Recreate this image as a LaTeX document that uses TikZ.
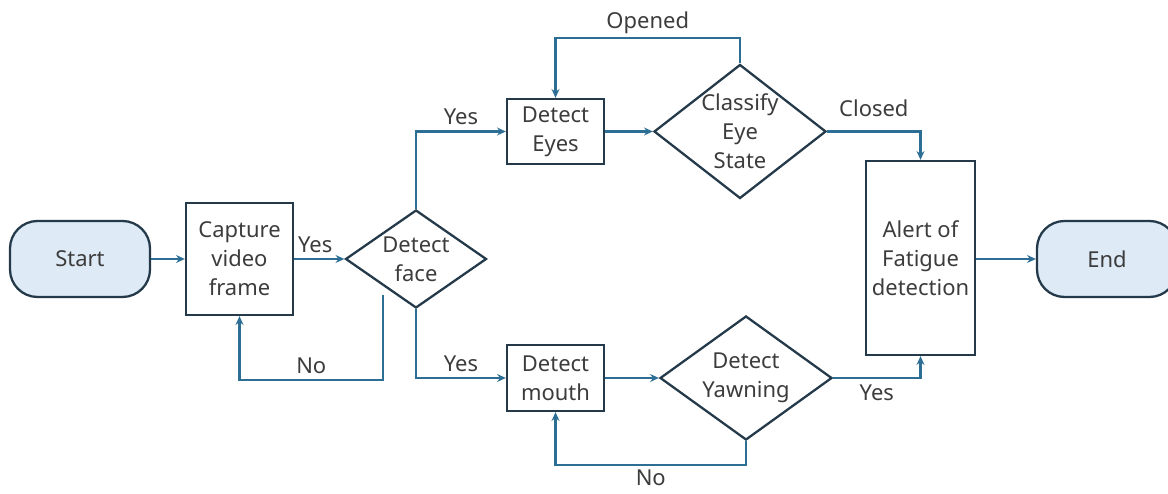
\documentclass[tikz,border=0pt]{standalone}
\usepackage{fontspec}
\setmainfont{Noto Sans}
\usetikzlibrary{arrows.meta}
\usetikzlibrary{shapes.geometric}
\definecolor{line1}{RGB}{45,110,148}
\definecolor{border1}{RGB}{36,58,74}
\definecolor{fill1}{RGB}{222,234,246}
\definecolor{text1}{RGB}{60,60,60}

\tikzset{
	txt/.style={text=text1,font=\fontsize{12.5pt}{16.5pt}\selectfont,align=center},
	terminal/.style={txt,draw=border1,fill=fill1,line width=1.3pt,rounded corners=0.55cm,minimum width=2.8cm,minimum height=1.52cm},
	process/.style={txt,draw=border1,line width=1.3pt,inner sep=0pt},
	decision/.style={diamond,draw=border1,line width=1.3pt,inner sep=0pt},
	flow/.style={draw=line1,line width=1.2pt,-{Stealth[length=5pt,width=4.5pt]}},
	lbl/.style={txt,inner sep=3pt}
}

\begin{document}
\begin{tikzpicture}

	\useasboundingbox (0,0) rectangle (23.36,9.88);

	%%% Start, capture and face
	\node[terminal] (start) at (1.6,4.7) {Start};
	\node[process,minimum width=2.14cm,minimum height=2.24cm] (capture) at (4.79,4.7) {Capture\\video\\frame};
	\node[decision,minimum width=2.82cm,minimum height=1.96cm,label={[txt]center:Detect\\face}] (face) at (8.32,4.7) {};

	%%% Eye branch
	\node[process,minimum width=1.94cm,minimum height=1.3cm] (eyes) at (11.11,7.25) {Detect\\Eyes};
	\node[decision,minimum width=3.44cm,minimum height=2.68cm,label={[txt]center:Classify\\Eye\\State}] (classify) at (14.8,7.25) {};

	%%% Mouth branch
	\node[process,minimum width=1.94cm,minimum height=1.32cm] (mouth) at (11.11,2.32) {Detect\\mouth};
	\node[decision,minimum width=3.44cm,minimum height=2.48cm,label={[txt]center:Detect\\Yawning}] (yawning) at (14.92,2.32) {};

	%%% Alert and end
	\node[process,minimum width=2.18cm,minimum height=3.88cm] (alert) at (18.41,4.72) {Alert of\\Fatigue\\detection};
	\node[terminal] (end) at (22.14,4.7) {End};

	%%% Main row
	\draw[flow] (start) -- (capture);
	\draw[flow] (capture.east) -- node[lbl,above,pos=0.42] {Yes} (face.west);
	\draw[flow] (alert.east |- end.west) -- (end.west);

	%%% Face not found
	\coordinate (nostart) at (7.66,3.98);
	\draw[flow] (nostart) -- ++(0,-1.7) -| node[lbl,above,pos=0.25] {No} (capture.south);

	%%% Eyes
	\draw[flow] (face.north) |- node[lbl,above,pos=0.75] {Yes} (eyes.west);
	\draw[flow] (eyes.east) -- (classify.west);
	\draw[flow] (classify.north) -- ++(0,0.5) -| node[lbl,above=-1pt,pos=0.25] {Opened} (eyes.north);
	\draw[flow] (classify.east) -| node[lbl,above=5pt,pos=0.25] {Closed} (alert.north);

	%%% Mouth
	\draw[flow] (face.south) |- node[lbl,above,pos=0.75] {Yes} (mouth.west);
	\draw[flow] (mouth.east) -- (yawning.west);
	\draw[flow] (yawning.east) -| node[lbl,below,pos=0.25] {Yes} (alert.south);
	\draw[flow] (yawning.south) -- ++(0,-0.48) -| node[lbl,below=-1pt,pos=0.25] {No} (mouth.south);

\end{tikzpicture}
\end{document}
